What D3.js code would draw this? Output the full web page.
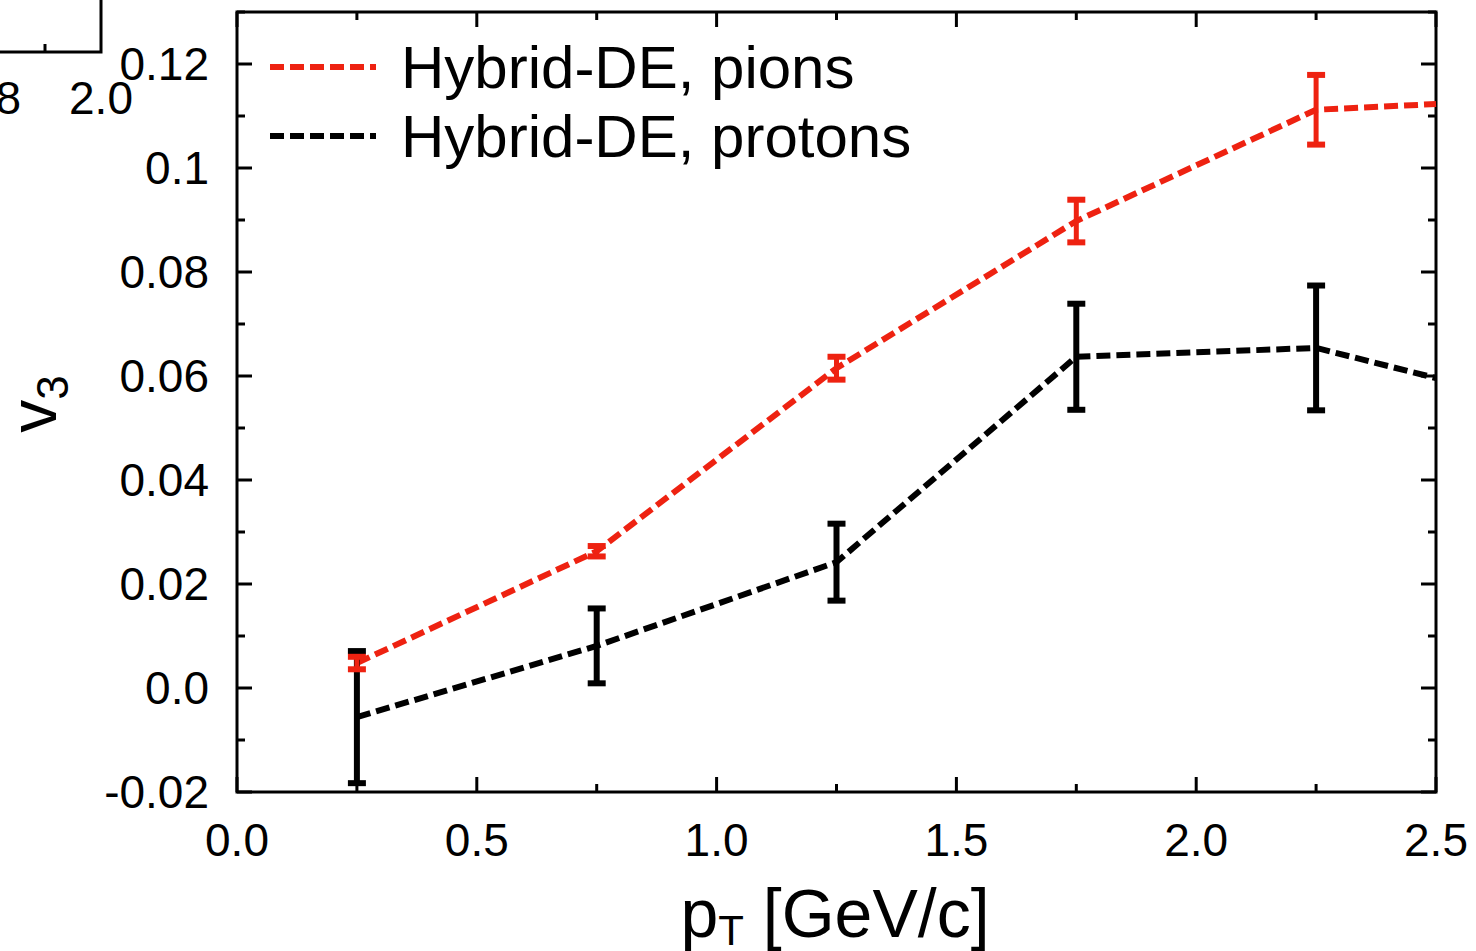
<!DOCTYPE html>
<html>
<head>
<meta charset="utf-8">
<script src="https://cdn.jsdelivr.net/npm/d3@7"></script>
<style>
  html, body { margin: 0; padding: 0; background: #fff; }
  svg { display: block; }
  text { font-family: "Liberation Sans", Arial, Helvetica, sans-serif; fill: #000; }
</style>
</head>
<body>
<svg id="chart" width="1476" height="951"></svg>
<script>
// ---- data ----
const pT = [0.25, 0.75, 1.25, 1.75, 2.25, 2.5];
const pionV3 = [0.0048, 0.0263, 0.0615, 0.0898, 0.1112, 0.1123];
const pionErr = [0.0012, 0.0010, 0.0022, 0.0041, 0.0067, null];
const protonV3 = [-0.0056, 0.0081, 0.0242, 0.0637, 0.0654, 0.0596];
const protonErr = [0.0127, 0.0072, 0.0074, 0.0102, 0.0120, null];
const xTicks = [0.0, 0.5, 1.0, 1.5, 2.0, 2.5];
const xTickLabels = ["0.0", "0.5", "1.0", "1.5", "2.0", "2.5"];
const yTicks = [-0.02, 0.0, 0.02, 0.04, 0.06, 0.08, 0.1, 0.12];
const yTickLabels = ["-0.02", "0.0", "0.02", "0.04", "0.06", "0.08", "0.1", "0.12"];
const seriesNames = ["Hybrid-DE, pions", "Hybrid-DE, protons"];
const seriesColors = ["#ee2211", "#000000"];
const insetTicks = [1.8, 2.0];
const insetTickLabels = ["1.8", "2.0"];

// ---- layout ----
const L = 237, R = 1436, T = 12, B = 792;
const svg = d3.select("#chart");
const x = d3.scaleLinear().domain([0, 2.5]).range([L, R]);
const y = d3.scaleLinear().domain([-0.02, 0.13]).range([B, T]);

// ---- inset remnant (top-left) ----
const xi = d3.scaleLinear().domain([1.9, 2.0]).range([45, 101]);
const inset = svg.append("g");
inset.append("path")
  .attr("d", `M-5,52 H${xi(2.0)} V-5`)
  .attr("fill", "none").attr("stroke", "#000").attr("stroke-width", 3);
inset.append("line")
  .attr("x1", xi(1.9)).attr("x2", xi(1.9)).attr("y1", 52).attr("y2", 44)
  .attr("stroke", "#000").attr("stroke-width", 3);
inset.selectAll("text.il").data(insetTicks).join("text")
  .attr("x", d => xi(d)).attr("y", 114)
  .attr("text-anchor", "middle").attr("font-size", 46)
  .text((d, i) => insetTickLabels[i]);

// ---- ticks (inward on all sides) ----
const g = svg.append("g");
const xMinor = d3.range(0, 2.5001, 0.25);
const yMinor = d3.range(-0.02, 0.1301, 0.01);
function isMajor(v, step) { return Math.abs(v / step - Math.round(v / step)) < 1e-6; }
xMinor.forEach(v => {
  const len = isMajor(v, 0.5) ? 15 : 8;
  g.append("line").attr("x1", x(v)).attr("x2", x(v)).attr("y1", B).attr("y2", B - len)
    .attr("stroke", "#000").attr("stroke-width", 3);
  g.append("line").attr("x1", x(v)).attr("x2", x(v)).attr("y1", T).attr("y2", T + len)
    .attr("stroke", "#000").attr("stroke-width", 3);
});
yMinor.forEach(v => {
  const len = isMajor(v, 0.02) ? 15 : 8;
  g.append("line").attr("x1", L).attr("x2", L + len).attr("y1", y(v)).attr("y2", y(v))
    .attr("stroke", "#000").attr("stroke-width", 3);
  g.append("line").attr("x1", R).attr("x2", R - len).attr("y1", y(v)).attr("y2", y(v))
    .attr("stroke", "#000").attr("stroke-width", 3);
});

// frame
g.append("rect").attr("x", L).attr("y", T).attr("width", R - L).attr("height", B - T)
  .attr("fill", "none").attr("stroke", "#000").attr("stroke-width", 3);

// tick labels
g.selectAll("text.xl").data(xTicks).join("text")
  .attr("x", d => x(d)).attr("y", 856)
  .attr("text-anchor", "middle").attr("font-size", 46)
  .text((d, i) => xTickLabels[i]);
g.selectAll("text.yl").data(yTicks).join("text")
  .attr("x", 209).attr("y", d => y(d) + 16)
  .attr("text-anchor", "end").attr("font-size", 46)
  .text((d, i) => yTickLabels[i]);

// axis titles
const xt = svg.append("text").attr("x", 835).attr("y", 937)
  .attr("text-anchor", "middle").attr("font-size", 68);
xt.append("tspan").text("p");
xt.append("tspan").attr("font-size", 42).attr("dy", 8).text("T");
xt.append("tspan").attr("dy", -8).text(" [GeV/c]");

const yt = svg.append("text")
  .attr("transform", "translate(56,404) rotate(-90)")
  .attr("text-anchor", "middle").attr("font-size", 66);
yt.append("tspan").text("v");
yt.append("tspan").attr("font-size", 44).attr("dy", 12).text("3");

// ---- series ----
const line = d3.line().x((d, i) => x(pT[i])).y(d => y(d));
const plot = svg.append("g");
const series = [
  { v: protonV3, e: protonErr, c: seriesColors[1], w: 6 },
  { v: pionV3, e: pionErr, c: seriesColors[0], w: 5 }
];
series.forEach(s => {
  plot.append("path").datum(s.v).attr("d", line)
    .attr("fill", "none").attr("stroke", s.c).attr("stroke-width", 6)
    .attr("stroke-dasharray", "14,6");
});
series.forEach(s => {
  s.v.forEach((v, i) => {
    if (s.e[i] == null) return;
    const cx = x(pT[i]);
    plot.append("line").attr("x1", cx).attr("x2", cx)
      .attr("y1", y(v - s.e[i])).attr("y2", y(v + s.e[i]))
      .attr("stroke", s.c).attr("stroke-width", s.w);
    [v - s.e[i], v + s.e[i]].forEach(ev => {
      plot.append("line").attr("x1", cx - 9).attr("x2", cx + 9)
        .attr("y1", y(ev)).attr("y2", y(ev))
        .attr("stroke", s.c).attr("stroke-width", 6);
    });
  });
});

// ---- legend ----
const lg = svg.append("g");
seriesNames.forEach((name, i) => {
  const ly = 67 + i * 69;
  lg.append("line").attr("x1", 270).attr("x2", 376).attr("y1", ly).attr("y2", ly)
    .attr("stroke", seriesColors[i]).attr("stroke-width", 6).attr("stroke-dasharray", "14,6");
  lg.append("text").attr("x", 401).attr("y", ly + 21).attr("font-size", 60).text(name);
});
</script>
</body>
</html>
